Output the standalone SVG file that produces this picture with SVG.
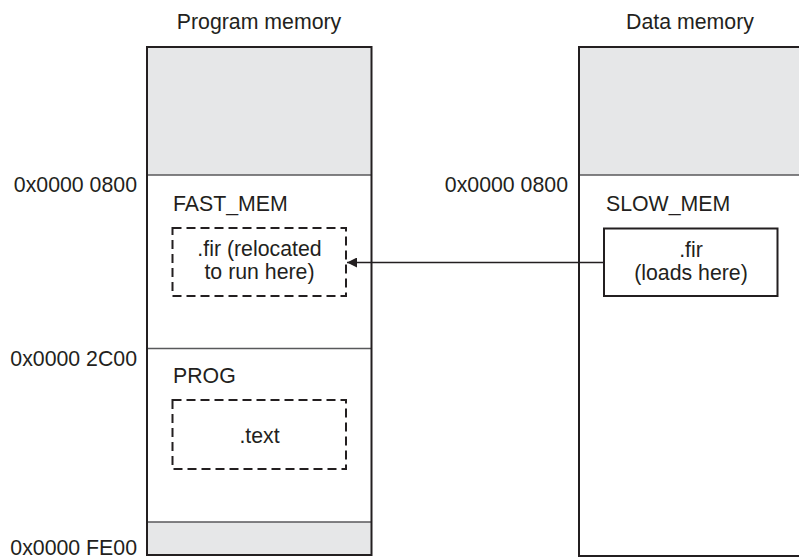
<svg xmlns="http://www.w3.org/2000/svg" width="799" height="560" viewBox="0 0 799 560">
<defs>
<style>
text{font-family:"Liberation Sans",Arial,sans-serif;font-size:21.3px;fill:#231f20}
.mid{text-anchor:middle}
.end{text-anchor:end}
.outer{fill:none;stroke:#231f20;stroke-width:2}
.gray{fill:#e6e7e8;stroke:none}
.div{stroke:#58595b;stroke-width:1.4;fill:none}
.dash{fill:none;stroke:#231f20;stroke-width:2;stroke-dasharray:9,5}
.solid{fill:#fff;stroke:#231f20;stroke-width:2}
.conn{stroke:#231f20;stroke-width:1.3;fill:none}
</style>
<marker id="ah" viewBox="0 0 10 10" refX="10" refY="5" markerWidth="10" markerHeight="10" markerUnits="userSpaceOnUse" orient="auto">
<path d="M0,0 L10,5 L0,10 Z" fill="#231f20"/>
</marker>
</defs>
<rect width="799" height="560" fill="#fff"/>
<g id="program-memory">
<text class="mid" x="259" y="29">Program memory</text>
<rect class="gray" x="147" y="47" width="224" height="128"/>
<rect class="gray" x="147" y="522" width="224" height="33"/>
<line class="div" x1="147" y1="175" x2="371" y2="175"/>
<line class="div" x1="147" y1="348.5" x2="371" y2="348.5"/>
<line class="div" x1="147" y1="522" x2="371" y2="522"/>
<rect class="outer" x="147" y="47" width="224.5" height="508"/>
<text class="end" x="137" y="192">0x0000 0800</text>
<text class="end" x="137" y="365.5">0x0000 2C00</text>
<text class="end" x="137" y="555">0x0000 FE00</text>
</g>
<g id="fast-mem">
<text x="173" y="211">FAST_MEM</text>
<rect class="dash" x="172.5" y="228" width="173.5" height="68"/>
<text class="mid" x="259.5" y="255.5">.fir (relocated</text>
<text class="mid" x="259.5" y="279">to run here)</text>
</g>
<g id="prog">
<text x="173" y="382.5">PROG</text>
<rect class="dash" x="172.5" y="400" width="173.5" height="69"/>
<text class="mid" x="259.5" y="443">.text</text>
</g>
<g id="data-memory">
<text class="mid" x="690" y="29">Data memory</text>
<rect class="gray" x="579" y="47" width="222" height="128"/>
<line class="div" x1="579" y1="175" x2="801" y2="175"/>
<rect class="outer" x="579" y="47" width="222" height="509"/>
<text class="end" x="568" y="192">0x0000 0800</text>
</g>
<g id="slow-mem">
<text x="606" y="211">SLOW_MEM</text>
<rect class="solid" x="604" y="228.5" width="173.5" height="67.5"/>
<text class="mid" x="691" y="256.5">.fir</text>
<text class="mid" x="691" y="280">(loads here)</text>
</g>
<g id="connectors">
<line class="conn" x1="604" y1="262.5" x2="347" y2="262.5" marker-end="url(#ah)"/>
</g>
</svg>
